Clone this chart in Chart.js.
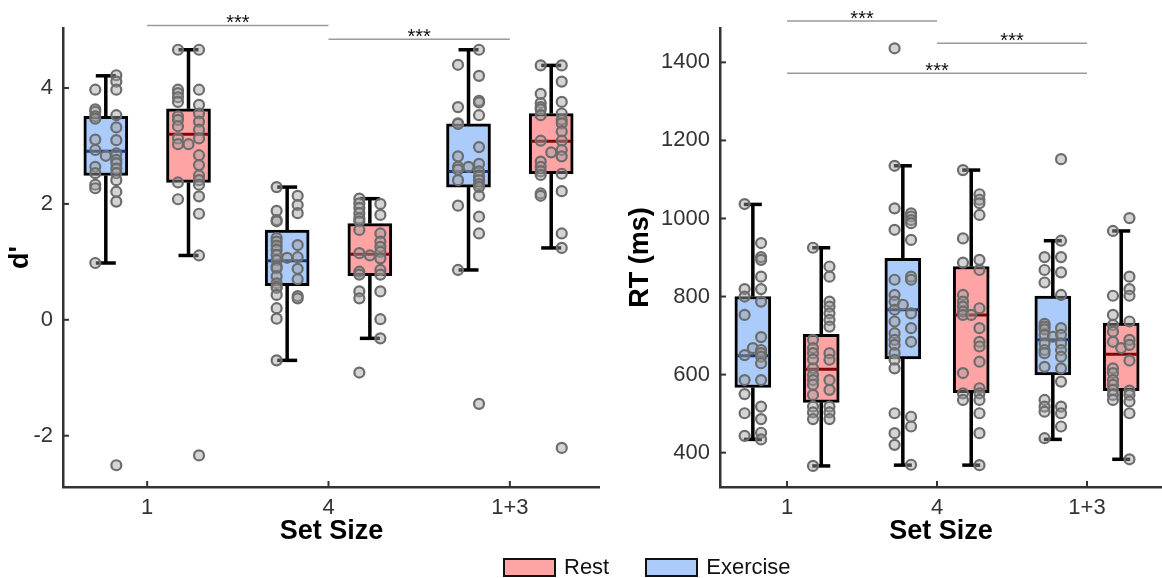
<!DOCTYPE html>
<html>
<head>
<meta charset="utf-8">
<script src="https://cdn.jsdelivr.net/npm/chart.js@4.4.1/dist/chart.umd.min.js"></script>
<style>
  html, body { margin: 0; padding: 0; background: #fff; }
  body { width: 1162px; height: 578px; position: relative; overflow: hidden;
         font-family: "Liberation Sans", Arial, sans-serif; }
  #panelD { position: absolute; left: 0; top: 0; }
  #panelRT { position: absolute; left: 600px; top: 0; }
  .legend { position: absolute; left: 503px; top: 557px; display: flex; align-items: center;
            font-size: 22px; color: #111; line-height: 20px; }
  .legend .sw { width: 49px; height: 15px; border: 2px solid #111; }
  .legend .lab { margin: 0 36px 0 8px; }
</style>
</head>
<body>
<canvas id="panelD" width="600" height="578"></canvas>
<canvas id="panelRT" width="562" height="578"></canvas>
<div class="legend">
  <span class="sw" style="background:#ffa4a4"></span><span class="lab">Rest</span>
  <span class="sw" style="background:#abcbfb"></span><span class="lab">Exercise</span>
</div>
<script>
// ---------- data ----------
const setSizeLabels = ['1', '4', '1+3'];
const setSizePositions = [1, 2, 3];

// d' box summaries per set size (1, 4, 1+3)
const dExerciseLow    = [0.98, -0.70, 0.86];
const dExerciseQ1     = [2.49, 0.59, 2.29];
const dExerciseMedian = [2.91, 1.02, 2.56];
const dExerciseQ3     = [3.51, 1.55, 3.38];
const dExerciseHigh   = [4.21, 2.29, 4.66];
const dRestLow        = [1.11, -0.32, 1.24];
const dRestQ1         = [2.37, 0.76, 2.52];
const dRestMedian     = [3.20, 1.13, 3.08];
const dRestQ3         = [3.64, 1.66, 3.56];
const dRestHigh       = [4.66, 2.09, 4.39];

// d' per participant; values listed left lane, middle lane, right lane,
// with the lane sizes alongside
const dExerciseSet1 = [3.97,3.63,3.59,3.51,3.47,3.11,2.93,2.64,2.53,2.33,2.27,0.98, 2.83,
  4.22,4.11,3.97,3.53,3.32,3.10,2.87,2.76,2.70,2.61,2.53,2.41,2.21,2.04,-2.51];
const dExerciseSet1Lanes = [12, 1, 15];
const dRestSet1 = [4.66,3.97,3.91,3.84,3.76,3.51,3.45,3.34,3.13,3.03,2.37,2.08, 3.03,
  4.66,3.97,3.71,3.56,3.42,3.28,3.13,2.84,2.67,2.49,2.41,2.33,2.13,1.83,1.11,-2.34];
const dRestSet1Lanes = [12, 1, 16];
const dExerciseSet4 = [2.29,1.88,1.72,1.70,1.41,1.35,1.28,1.21,1.12,1.03,0.92,0.89,0.75,0.63,0.57,0.55,0.43,0.20,0.02,-0.70, 1.07,
  2.14,1.98,1.84,1.29,1.08,0.88,0.70,0.41,0.37];
const dExerciseSet4Lanes = [20, 1, 9];
const dRestSet4 = [2.09,2.01,1.93,1.84,1.75,1.70,1.55,1.15,0.83,0.78,0.49,0.37,-0.91, 1.11,
  2.00,1.81,1.49,1.35,1.26,1.17,1.06,0.86,0.78,0.49,0.01,-0.32];
const dRestSet4Lanes = [13, 1, 12];
const dExerciseSet13 = [4.40,3.67,3.39,3.38,2.82,2.64,2.59,2.41,1.97,0.86, 2.64,
  4.66,4.21,3.78,3.75,3.53,2.98,2.69,2.56,2.47,2.41,2.34,2.29,2.14,1.78,1.49,-1.45];
const dExerciseSet13Lanes = [10, 1, 16];
const dRestSet13 = [4.39,3.90,3.74,3.67,3.63,3.53,3.09,2.73,2.64,2.56,2.50,2.18,2.14, 2.89,
  4.39,4.11,3.76,3.56,3.45,3.39,3.25,3.09,2.93,2.82,2.52,2.22,1.49,1.24,-2.21];
const dRestSet13Lanes = [13, 1, 15];

// RT (ms) box summaries per set size (1, 4, 1+3)
const rtExerciseLow    = [434, 368, 434];
const rtExerciseQ1     = [567, 640, 599];
const rtExerciseMedian = [648, 766, 689];
const rtExerciseQ3     = [800, 898, 801];
const rtExerciseHigh   = [1036, 1135, 943];
const rtRestLow        = [366, 368, 383];
const rtRestQ1         = [529, 554, 559];
const rtRestMedian     = [614, 753, 652];
const rtRestQ3         = [703, 877, 732];
const rtRestHigh       = [925, 1124, 968];

// RT per participant (same lane layout as above)
const rtExerciseSet1 = [1037,819,800,753,650,586,550,501,443, 668,
  937,901,894,851,819,787,696,663,655,646,629,586,518,486,451,434];
const rtExerciseSet1Lanes = [9, 1, 16];
const rtRestSet1 = [925,689,668,655,639,616,599,586,574,548,518,503,486,366,
  877,851,787,774,757,740,723,655,638,586,561,518,503,486];
const rtRestSet1Lanes = [14, 0, 14];
const rtExerciseSet4 = [1436,1135,1026,971,843,804,787,766,736,706,689,676,655,638,616,501,450,420, 779,
  1013,1005,996,988,945,851,843,757,719,684,492,467,369];
const rtExerciseSet4Lanes = [18, 1, 13];
const rtRestSet4 = [1124,949,887,804,787,774,761,753,604,552,535, 753,
  1062,1048,1039,1009,894,868,770,719,684,672,633,565,552,535,501,450,368];
const rtRestSet4Lanes = [11, 1, 17];
const rtExerciseSet13 = [901,868,836,730,723,716,702,680,663,655,620,535,518,505,437, 697,
  1152,943,901,862,804,719,702,680,663,646,616,582,518,501,467];
const rtExerciseSet13Lanes = [15, 1, 15];
const rtRestSet13 = [968,802,753,727,710,684,616,604,586,574,561,548,535, 668,
  1001,851,819,802,736,689,676,636,559,548,531,501,383];
const rtRestSet13Lanes = [13, 1, 13];

// pairwise comparisons: from / to set-size position and bracket level
const dSigFrom = [1, 2];
const dSigTo = [2, 3];
const dSigLevel = [5.08, 4.84];
const rtSigFrom = [1, 2, 1];
const rtSigTo = [2, 3, 3];
const rtSigLevel = [1506, 1449, 1372];
const sigMark = '***';

const dTicks = [-2, 0, 2, 4];
const rtTicks = [400, 600, 800, 1000, 1200, 1400];

// ---------- styling ----------
const FONT = '"Liberation Sans", Arial, sans-serif';
Chart.defaults.font.family = FONT;
const EXERCISE_FILL = '#abcbfb', REST_FILL = '#ffa4a4';
const EXERCISE_MED = '#173a78', REST_MED = '#7c0a0a';
const AXIS = '#333333';

// lane index -> -1 / 0 / +1
function lanePoints(values, lanes, center, laneStep) {
  const out = [];
  values.forEach((v, i) => {
    let lane = 1;
    if (i < lanes[0]) lane = -1;
    else if (i < lanes[0] + lanes[1]) lane = 0;
    out.push({ x: center + lane * laneStep, y: v });
  });
  return out;
}

function strokeLine(ctx, x1, y1, x2, y2) {
  ctx.beginPath(); ctx.moveTo(x1, y1); ctx.lineTo(x2, y2); ctx.stroke();
}

const boxPlugin = {
  id: 'boxplot',
  beforeDatasetsDraw(chart, args, o) {
    const { ctx } = chart, x = chart.scales.x, y = chart.scales.y;
    ctx.save();
    // inward tick marks
    ctx.strokeStyle = AXIS; ctx.lineWidth = 2;
    x.ticks.forEach(t => { const px = x.getPixelForValue(t.value); strokeLine(ctx, px, y.bottom, px, y.bottom - o.tickLen); });
    y.ticks.forEach(t => { const py = y.getPixelForValue(t.value); strokeLine(ctx, x.left, py, x.left + o.tickLen, py); });
    // whiskers and caps
    ctx.strokeStyle = '#000'; ctx.lineWidth = o.whiskerWidth; ctx.lineCap = 'butt';
    o.groups.forEach(g => {
      g.low.forEach((lo, i) => {
        const cx = x.getPixelForValue(setSizePositions[i] + g.shift);
        const yLo = y.getPixelForValue(lo), yHi = y.getPixelForValue(g.high[i]);
        const yQ1 = y.getPixelForValue(g.q1[i]), yQ3 = y.getPixelForValue(g.q3[i]);
        strokeLine(ctx, cx, yQ3, cx, yHi);
        strokeLine(ctx, cx, yQ1, cx, yLo);
        strokeLine(ctx, cx - o.cap / 2, yHi, cx + o.cap / 2, yHi);
        strokeLine(ctx, cx - o.cap / 2, yLo, cx + o.cap / 2, yLo);
      });
    });
    ctx.restore();
  },
  afterDatasetDraw(chart, args) {
    const ds = chart.data.datasets[args.index];
    if (!ds.medians) return;
    const { ctx } = chart, y = chart.scales.y;
    ctx.save();
    ctx.strokeStyle = ds.medianColor; ctx.lineWidth = 3;
    args.meta.data.forEach((bar, i) => {
      const py = y.getPixelForValue(ds.medians[i]);
      strokeLine(ctx, bar.x - bar.width / 2 + 2, py, bar.x + bar.width / 2 - 2, py);
    });
    ctx.restore();
  },
  afterDraw(chart, args, o) {
    const { ctx } = chart, x = chart.scales.x, y = chart.scales.y;
    ctx.save();
    ctx.strokeStyle = '#9a9a9a'; ctx.lineWidth = 1.5;
    ctx.fillStyle = '#111'; ctx.font = '20px ' + FONT;
    ctx.textAlign = 'center'; ctx.textBaseline = 'alphabetic';
    o.sigFrom.forEach((f, i) => {
      const x1 = x.getPixelForValue(f), x2 = x.getPixelForValue(o.sigTo[i]);
      const py = y.getPixelForValue(o.sigLevel[i]);
      strokeLine(ctx, x1, py, x2, py);
      ctx.fillText(sigMark, (x1 + x2) / 2, py + 4);
    });
    ctx.restore();
  }
};

function buildPanel(canvasId, p) {
  const groups = [
    { shift: -p.boxShift, low: p.exLow, q1: p.exQ1, med: p.exMed, q3: p.exQ3, high: p.exHigh, fill: EXERCISE_FILL, medColor: EXERCISE_MED, pts: p.exPts },
    { shift:  p.boxShift, low: p.reLow, q1: p.reQ1, med: p.reMed, q3: p.reQ3, high: p.reHigh, fill: REST_FILL, medColor: REST_MED, pts: p.rePts }
  ];
  const datasets = [];
  groups.forEach(g => {
    datasets.push({
      type: 'bar', order: 2, grouped: false, barThickness: p.boxWidth,
      data: setSizePositions.map((c, i) => ({ x: c + g.shift, y: [g.q1[i], g.q3[i]] })),
      backgroundColor: g.fill, borderColor: '#000', borderWidth: 3, borderSkipped: false,
      medians: g.med, medianColor: g.medColor
    });
  });
  groups.forEach(g => {
    const pts = [];
    g.pts.forEach((grp, i) => pts.push(...lanePoints(grp[0], grp[1], setSizePositions[i] + g.shift, p.laneStep)));
    datasets.push({
      type: 'scatter', order: 1, data: pts,
      pointRadius: 5, pointBorderWidth: 2.2,
      pointBackgroundColor: 'rgba(160,160,160,0.45)', pointBorderColor: '#6c6c6c'
    });
  });

  return new Chart(document.getElementById(canvasId), {
    type: 'bar',
    data: { datasets },
    plugins: [boxPlugin],
    options: {
      responsive: false, animation: false, events: [],
      layout: { autoPadding: false, padding: { top: 28, right: 0, bottom: 0, left: p.padLeft } },
      plugins: {
        legend: { display: false }, tooltip: { enabled: false },
        boxplot: { groups, tickLen: 6, whiskerWidth: 3.5, cap: p.capWidth,
                   sigFrom: p.sigFrom, sigTo: p.sigTo, sigLevel: p.sigLevel }
      },
      scales: {
        x: {
          type: 'linear', min: p.xMin, max: p.xMax, offset: false,
          grid: { display: false, drawTicks: false },
          border: { display: true, color: AXIS, width: 2.5 },
          afterBuildTicks: s => { s.ticks = setSizePositions.map(v => ({ value: v })); },
          afterFit: s => { s.height = 91; },
          ticks: { padding: 8, color: AXIS, font: { size: 22 },
                   callback: v => setSizeLabels[setSizePositions.indexOf(v)] },
          title: { display: true, text: 'Set Size', color: '#000',
                   font: { size: 27, weight: 'bold' }, padding: { top: 0, bottom: 30 } }
        },
        y: {
          min: p.yMin, max: p.yMax,
          grid: { display: false, drawTicks: false },
          border: { display: true, color: AXIS, width: 2.5 },
          afterBuildTicks: s => { s.ticks = p.yTicks.map(v => ({ value: v })); },
          afterFit: s => { s.width = p.yWidth; },
          ticks: { padding: 10, color: AXIS, font: { size: 22 }, callback: v => String(v) },
          title: { display: true, text: p.yTitle, color: '#000',
                   font: { size: 27, weight: 'bold' }, padding: { top: 4, bottom: 0 } }
        }
      }
    }
  });
}

buildPanel('panelD', {
  xMin: 0.536, xMax: 3.497, yMin: -2.885, yMax: 5.035, yTicks: dTicks, yTitle: "d'",
  padLeft: 0, yWidth: 63, boxWidth: 44, boxShift: 0.228, laneStep: 0.058, capWidth: 20,
  exLow: dExerciseLow, exQ1: dExerciseQ1, exMed: dExerciseMedian, exQ3: dExerciseQ3, exHigh: dExerciseHigh,
  reLow: dRestLow, reQ1: dRestQ1, reMed: dRestMedian, reQ3: dRestQ3, reHigh: dRestHigh,
  exPts: [[dExerciseSet1, dExerciseSet1Lanes], [dExerciseSet4, dExerciseSet4Lanes], [dExerciseSet13, dExerciseSet13Lanes]],
  rePts: [[dRestSet1, dRestSet1Lanes], [dRestSet4, dRestSet4Lanes], [dRestSet13, dRestSet13Lanes]],
  sigFrom: dSigFrom, sigTo: dSigTo, sigLevel: dSigLevel
});

buildPanel('panelRT', {
  xMin: 0.553, xMax: 3.5, yMin: 312, yMax: 1488, yTicks: rtTicks, yTitle: 'RT (ms)',
  padLeft: 20, yWidth: 100, boxWidth: 36, boxShift: 0.228, laneStep: 0.055, capWidth: 18,
  exLow: rtExerciseLow, exQ1: rtExerciseQ1, exMed: rtExerciseMedian, exQ3: rtExerciseQ3, exHigh: rtExerciseHigh,
  reLow: rtRestLow, reQ1: rtRestQ1, reMed: rtRestMedian, reQ3: rtRestQ3, reHigh: rtRestHigh,
  exPts: [[rtExerciseSet1, rtExerciseSet1Lanes], [rtExerciseSet4, rtExerciseSet4Lanes], [rtExerciseSet13, rtExerciseSet13Lanes]],
  rePts: [[rtRestSet1, rtRestSet1Lanes], [rtRestSet4, rtRestSet4Lanes], [rtRestSet13, rtRestSet13Lanes]],
  sigFrom: rtSigFrom, sigTo: rtSigTo, sigLevel: rtSigLevel
});
</script>
</body>
</html>
